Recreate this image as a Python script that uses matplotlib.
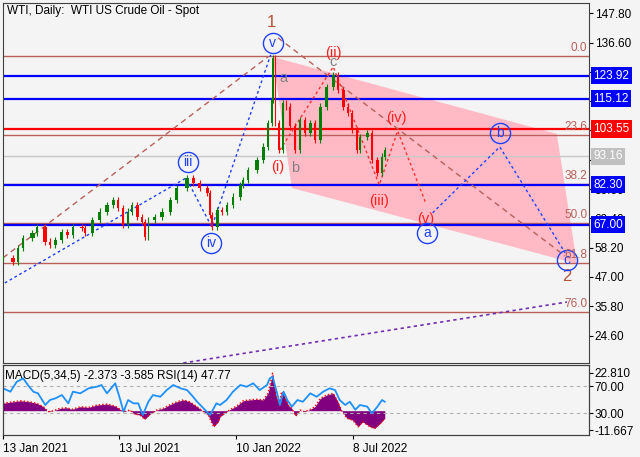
import matplotlib
matplotlib.use('Agg')
import matplotlib.pyplot as plt
from matplotlib.patches import Polygon
from matplotlib.transforms import blended_transform_factory

plt.rcParams['font.family'] = ['Liberation Sans', 'DejaVu Sans']
plt.rcParams['font.size'] = 8

# WTI closes (bar index from 13 Jan 2021, price)
price_bar = [0, 11, 16, 22, 32, 37, 46, 51, 57, 64, 70, 76, 86, 89, 97, 105, 113, 120, 125, 130,
             136, 140, 146, 151, 154, 158, 165, 173, 182, 189, 200, 207, 214, 222, 225, 227, 233, 238, 243, 250,
             258, 261, 266, 276, 283, 288, 292, 293, 296, 300, 304, 308, 312, 317, 323, 328, 334, 339, 345, 352,
             359, 364, 370, 375, 379, 385, 388, 396, 401, 407, 412, 415]
price_close = [54.1, 52.8, 58.1, 61.9, 63.8, 66.2, 60.5, 59.2, 61.1, 64.3, 63.1, 66.2, 65.6, 63.7, 68.8, 72.0, 74.5, 76.4, 73.3, 66.9,
               72.0, 74.5, 70.0, 68.1, 62.4, 68.8, 69.8, 72.0, 76.4, 80.9, 84.7, 82.8, 80.9, 79.0, 70.7, 66.2, 72.6, 72.0, 74.5, 77.7,
               82.2, 84.0, 87.9, 91.7, 96.8, 105.9, 114.7, 130.8, 105.9, 95.5, 113.5, 112.1, 104.5, 95.5, 107.0, 101.9, 105.8, 99.4, 112.1, 119.7,
               124.2, 118.5, 112.1, 109.6, 103.2, 95.5, 100.6, 101.9, 91.7, 86.6, 93.0, 95.5]

# MACD(5,34,5) histogram
macd_bar = [0, 11, 19, 29, 37, 44, 49, 55, 62, 69, 75, 84, 93, 102, 113, 122, 131, 138, 143, 149,
            154, 160, 167, 174, 182, 189, 196, 203, 211, 218, 223, 229, 234,
            236, 241, 247, 254, 261, 268, 276, 283, 288, 291, 293, 297, 300, 303, 307, 310, 314, 318,
            323, 328, 334, 339, 345, 352, 359, 364, 368, 374, 380, 386, 391, 399, 404, 410, 415]
macd_val = [4.5, 5.4, 6.0, 5.4, 4.4, 2.4, -0.6, 0.0, 1.4, 1.8, 0.8, 2.4, 2.0, 3.4, 4.0, 2.8, -0.6, 0.4, -2.0, -2.6,
            -5.2, -2.0, 0.4, 1.4, 3.8, 5.4, 6.5, 5.4, 2.4, -0.6, -2.6, -9.7, -6.7,
            -3.6, -1.6, 0.8, 2.8, 6.0, 6.5, 6.9, 6.5, 10.5, 17.5, 22.6, 8.5, 4.4, 11.5, 7.5, 3.4, 1.4, -3.2,
            0.4, -0.6, 0.8, 2.4, 7.5, 9.5, 10.5, 5.4, 0.0, -4.6, -5.6, -9.7, -6.7, -9.7, -10.7, -7.7, -4.6]

# RSI(14)
rsi_bar = [0, 8, 15, 22, 27, 33, 38, 46, 51, 57, 64, 71, 76, 84, 93, 102, 107, 113, 122, 127,
           131, 136, 142, 147, 152, 158, 163, 171, 178, 185, 193, 200, 205, 211, 218, 225, 232,
           236, 243, 250, 258, 265, 272, 279, 287, 290, 293, 298, 301, 305, 309, 314, 320, 326, 334,
           341, 348, 355, 361, 366, 372, 377, 383, 388, 396, 401, 407, 412, 415]
rsi_val = [66.6, 61.7, 76.3, 81.2, 71.5, 61.7, 59.3, 42.2, 49.5, 52.0, 56.8, 44.6, 61.7, 59.3, 66.6, 69.0, 71.5, 59.3, 74.0, 52.0,
           32.4, 49.5, 44.6, 44.6, 27.5, 47.0, 56.8, 54.3, 64.1, 71.5, 66.6, 64.1, 56.8, 47.0, 37.3, 27.5, 44.6,
           42.2, 49.5, 61.7, 71.5, 69.0, 74.0, 64.1, 71.5, 81.2, 83.6, 59.3, 42.2, 61.7, 49.5, 39.8, 49.5, 47.0, 59.3,
           54.3, 61.7, 66.6, 64.1, 49.5, 42.2, 47.0, 35.3, 42.2, 39.8, 30.0, 39.8, 49.5, 47.0]

date_ticks = [0, 126, 253, 380]
date_labels = ['13 Jan 2021', '13 Jul 2021', '10 Jan 2022', '8 Jul 2022']
price_ticks = [147.8, 136.6, 125.4, 114.2, 103.0, 91.8, 80.6, 69.4, 58.2, 47.0, 35.8, 24.6]

fib_levels = [131.5, 101.3, 82.6, 67.5, 52.4, 33.7]
fib_labels = ['0.0', '23.6', '38.2', '50.0', '61.8', '76.0']
blue_levels = [123.92, 115.12, 82.30, 67.00]
red_level = 103.55
gray_level = 93.16

# wave lines (bar, price)
fibo_diag = ([0, 288], [54.3, 131.1])
wave1_to_2 = ([299, 611], [138.4, 55.0])
red_wave = ([301, 359, 409, 429, 459], [95.5, 127.3, 82.2, 102.8, 75.7])
blue_wave = ([2, 199, 227, 291], [44.7, 84.8, 66.1, 131.9])
blue_abc = ([467, 540, 611], [71.5, 96.7, 56.2])
purple_line = ([196, 613], [14.1, 37.4])
channel = [(293, 131.1), (602, 101.7), (624, 52.0), (314, 81.0)]

red_labels = [('(i)', 299, 89.0), ('(ii)', 359, 132.6), ('(iii)', 409, 76.1), ('(iv)', 428, 107.8), ('(v)', 460, 69.2)]
blue_labels = [('v', 293, 136.4), ('iii', 201, 91.0), ('iv', 226, 60.0), ('a', 461, 63.8), ('b', 540, 102.0), ('c', 613, 53.5)]
gray_labels = [('a', 305, 123.1), ('b', 317, 88.7), ('c', 359, 129.2)]
wave_numbers = [('1', 292, 144.1), ('2', 613, 47.0)]

bg = '#f4f4f4'
fig = plt.figure(figsize=(6.4, 4.57), dpi=100, facecolor=bg)
ax = fig.add_axes([3 / 640, 94 / 457, 586 / 640, 360 / 457], facecolor=bg)
ax.set_xlim(0, 637)
ax.set_ylim(14.1, 151.7)

ax.add_patch(Polygon(channel, closed=True, fc='#ffbac5', ec='none', zorder=1))

for lv in fib_levels:
    ax.axhline(lv, color='#b8605a', lw=1, zorder=2)
for lv in blue_levels:
    ax.axhline(lv, color='#0000ff', lw=1.6, zorder=2)
ax.axhline(red_level, color='#ff0000', lw=1.6, zorder=2)
ax.axhline(gray_level, color='#c8c8c8', lw=1, zorder=2)

# candles
opens = [price_close[0]] + price_close[:-1]
for k in range(len(price_bar)):
    o, c = opens[k], price_close[k]
    gap = price_bar[k] - price_bar[k - 1] if k > 0 else 3
    col = '#008000' if c >= o else '#ff0000'
    ax.vlines(price_bar[k], min(o, c) - 1.2, max(o, c) + 1.2, color=col, lw=0.8, zorder=4)
    ax.bar(price_bar[k], max(abs(c - o), 0.4), bottom=min(o, c), width=max(gap * 0.45, 1.5),
           color=col, lw=0, zorder=4)

ax.plot(*fibo_diag, color='#b8605a', lw=1, ls=(0, (4, 3)), zorder=3)
ax.plot(*wave1_to_2, color='#b8605a', lw=1, ls=(0, (4, 3)), zorder=3)
ax.plot(*red_wave, color='#ff3030', lw=1, ls=(0, (2, 2)), zorder=3)
ax.plot(*blue_wave, color='#2040ff', lw=1, ls=(0, (2, 2)), zorder=3)
ax.plot(*blue_abc, color='#2040ff', lw=1, ls=(0, (2, 2)), zorder=3)
ax.plot(*purple_line, color='#7030b0', lw=1.2, ls=(0, (2, 2)), zorder=3)

for t, x, y in red_labels:
    ax.text(x, y, t, color='#ff2020', fontsize=10.5, ha='center', va='center', zorder=6)
for t, x, y in gray_labels:
    ax.text(x, y, t, color='#808080', fontsize=10.5, ha='center', va='center', zorder=6)
for t, x, y in wave_numbers:
    ax.text(x, y, t, color='#b5553a', fontsize=12, ha='center', va='center', zorder=6)
for t, x, y in blue_labels:
    ax.plot(x, y, 'o', ms=14.5, mfc='none', mec='#2040ff', mew=1, zorder=6)
    ax.text(x, y, t, color='#2040ff', fontsize=10, ha='center', va='center', zorder=6)

for lv, lab in zip(fib_levels, fib_labels):
    ax.text(635, lv + 0.8, lab, color='#b8605a', fontsize=8.5, ha='right', va='bottom', zorder=6)

ax.set_xticks([])
ax.set_yticks(price_ticks)
ax.set_yticklabels(['%.2f' % v for v in price_ticks])
ax.yaxis.tick_right()
ax.tick_params(axis='y', length=3, pad=1, colors='#000000', width=0.8, labelsize=8.5)
for s in ax.spines.values():
    s.set_color('#404040')

trans = blended_transform_factory(ax.transAxes, ax.transData)
boxes = [(123.92, '#0000ff'), (115.12, '#0000ff'), (red_level, '#ff0000'),
         (gray_level, '#c0c0c0'), (82.30, '#0000ff'), (67.00, '#0000ff')]
for v, col in boxes:
    ax.text(1.007, v, '%.2f' % v, transform=trans, color='white', fontsize=8.5, ha='left', va='center',
            bbox=dict(boxstyle='square,pad=0.22', fc=col, ec='none'), clip_on=False, zorder=10)

ax.text(0.007, 0.994, 'WTI, Daily:  WTI US Crude Oil - Spot', transform=ax.transAxes,
        fontsize=8.5, ha='left', va='top')

# indicator window
ax2 = fig.add_axes([3 / 640, 22.3 / 457, 586 / 640, 69.7 / 457], facecolor=bg)
ax2.set_xlim(0, 637)
ax2.set_ylim(-14.5, 27.6)
ax2.fill_between(macd_bar, macd_val, 0, color='#800080', lw=0, zorder=2)
ax2.plot(macd_bar, macd_val, color='#ff0000', lw=1, ls=(0, (1, 1.5)), zorder=3)
ax2.set_xticks(date_ticks)
ax2.set_xticklabels(date_labels, ha='left')
ax2.tick_params(axis='x', length=3, pad=3, width=0.8, labelsize=8.5)
for s in ax2.spines.values():
    s.set_color('#404040')

rsi_ax = ax2.twinx()
rsi_ax.set_ylim(-1.3, 100.8)
rsi_ax.axhline(70, color='#b0b0b0', lw=0.8, ls=(0, (3, 3)))
rsi_ax.axhline(30, color='#b0b0b0', lw=0.8, ls=(0, (3, 3)))
rsi_ax.plot(rsi_bar, rsi_val, color='#1e90ff', lw=1.3)
rsi_ax.set_yticks([70, 30])
rsi_ax.set_yticklabels(['70.00', '30.00'])
rsi_ax.tick_params(axis='y', length=3, pad=1, width=0.8, labelsize=8.5)
for s in rsi_ax.spines.values():
    s.set_color('#404040')

# twinx moves the MACD ticks to the left, put them back on the right
ax2.set_yticks([22.81, -11.667])
ax2.set_yticklabels(['22.810', '-11.667'])
ax2.yaxis.tick_right()
ax2.tick_params(axis='y', length=3, pad=1, width=0.8, labelsize=8.5)

ax2.text(0.004, 0.93, 'MACD(5,34,5) -2.373 -3.585 RSI(14) 47.77', transform=ax2.transAxes,
         fontsize=8.5, ha='left', va='top', zorder=5)

fig.savefig('out.png', dpi=100, facecolor=bg)
